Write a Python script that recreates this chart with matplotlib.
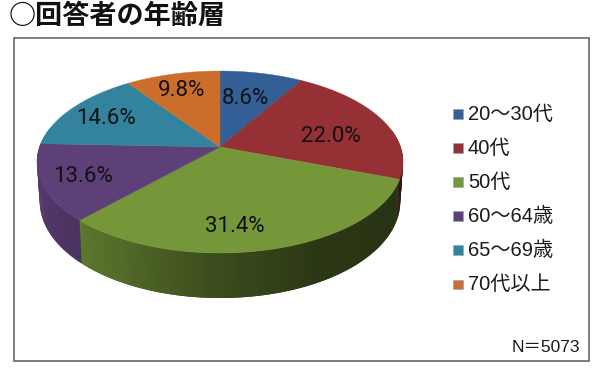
#!/usr/bin/env python3
"""Age groups of respondents, drawn as a 3D-looking pie in pixel coordinates."""

import numpy as np
import matplotlib
matplotlib.use("Agg")
import matplotlib.pyplot as plt
from matplotlib.patches import Polygon, Rectangle

plt.rcParams["font.family"] = ["Liberation Sans", "Noto Sans CJK JP", "DejaVu Sans"]

# Data
categories = ["20～30代", "40代", "50代", "60～64歳", "65～69歳", "70代以上"]
shares = [8.6, 22.0, 31.4, 13.6, 14.6, 9.8]
colors = ["#335e96", "#953035", "#769739", "#5e4078", "#33839f", "#cb6d2b"]
title = "○回答者の年齢層"
note = "N＝5073"

# Label centres in pixels, same order as shares
label_pos = [(245, 98), (331, 137), (235, 227), (83, 176), (106, 119), (182, 91)]

# Pie geometry: a tilted disc, the apex sits above the ellipse centre
CX, CY = 220, 147
RX, RY, PERSP = 180.5, 88.5, 0.165


def project(theta):
    """Clockwise angle from 12 o'clock (radians) to top surface pixels."""
    u, v = np.sin(theta), np.cos(theta)
    d = 1 + PERSP * v
    return CX + RX * u / d, CY - RY * v / d


def project_bottom(theta):
    """Lower rim of the disc: a little narrower, deepest at the front."""
    x, y = project(theta)
    depth = 38 - 7 * np.cos(theta)
    return CX + (x - CX) * 0.985, y + depth


def shade(color, theta):
    """Side wall colour, light on the left and dark towards the right."""
    rgb = np.array(matplotlib.colors.to_rgb(color))
    x = np.sin(theta)
    factor = np.interp(x, [-1, -0.75, 0, 0.45, 1], [0.88, 0.82, 0.5, 0.37, 0.33])
    return tuple(rgb * factor)


fig = plt.figure(figsize=(6, 3.75), dpi=100)
ax = fig.add_axes([0, 0, 1, 1])
ax.set_xlim(0, 600)
ax.set_ylim(375, 0)
ax.axis("off")

# Frame
ax.add_patch(Rectangle((14, 38), 575, 323, fc="white", ec="#5a5a5a", lw=1.1))

edges = np.cumsum([0] + shares) / sum(shares) * 2 * np.pi

# Side wall first, then the top wedges over it
for i, color in enumerate(colors):
    steps = np.linspace(edges[i], edges[i + 1], max(int(np.degrees(edges[i + 1] - edges[i])) * 2, 2))
    for a, b in zip(steps[:-1], steps[1:]):
        if np.cos(a) > 0.2 and np.cos(b) > 0.2:
            continue
        mid = (a + b) / 2
        pts = [project(a), project(b + 0.012), project_bottom(b + 0.012), project_bottom(a)]
        ax.add_patch(Polygon(pts, fc=shade(color, mid), ec="none", lw=0, zorder=2))

for i, color in enumerate(colors):
    steps = np.linspace(edges[i], edges[i + 1], 120)
    xs, ys = project(steps)
    pts = [(CX, CY)] + list(zip(xs, ys))
    ax.add_patch(Polygon(pts, fc=color, ec=color, lw=0.3, zorder=3))

for share, (x, y) in zip(shares, label_pos):
    ax.text(x, y, f"{share:.1f}%", ha="center", va="center", fontsize=16,
            family=["Roboto", "DejaVu Sans"], color="#111111", zorder=4)

# Legend
for i, (name, color) in enumerate(zip(categories, colors)):
    y = 114 + i * 34.1
    ax.add_patch(Rectangle((453, y - 5), 9.5, 9.5, fc=color, ec="#9aa5b5", lw=0.5))
    ax.text(468, y, name, ha="left", va="center", fontsize=14.5, color="#1a1a1a")

ax.text(580, 347, note, ha="right", va="center", fontsize=12.5, color="#1a1a1a")
ax.text(9, 16, title, ha="left", va="center", fontsize=19.5, fontweight="bold",
        family=["Noto Sans CJK JP", "DejaVu Sans"], color="#111111")

fig.savefig("out.png", dpi=100, facecolor="white")
